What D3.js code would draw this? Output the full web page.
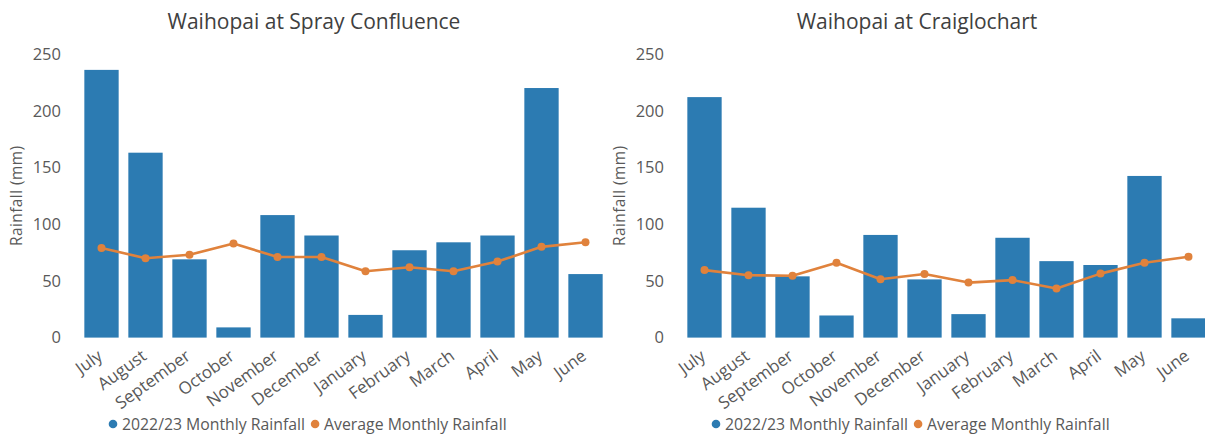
<!DOCTYPE html>
<html>
<head>
<meta charset="utf-8">
<script src="https://cdn.jsdelivr.net/npm/d3@7/dist/d3.min.js"></script>
<style>
  html, body { margin: 0; padding: 0; background: #ffffff; }
  svg { display: block; font-family: "Open Sans", "Noto Sans", sans-serif; }
</style>
</head>
<body>
<svg id="chart" width="1205" height="436"></svg>
<script>
// Months of the hydrological year (July to June)
const months = ["July", "August", "September", "October", "November", "December",
                "January", "February", "March", "April", "May", "June"];

// Waihopai at Spray Confluence (mm)
const sprayRain2223 = [236, 163, 69, 9, 108, 90, 20, 77, 84, 90, 220, 56];
const sprayRainAvg  = [79, 70, 73, 83, 71, 71, 58.5, 62, 58.5, 67, 80, 84];

// Waihopai at Craiglochart (mm)
const craigRain2223 = [212, 114.5, 54, 19.5, 90.5, 51.3, 20.7, 88, 67.4, 64, 142.5, 17];
const craigRainAvg  = [59.5, 55, 54.5, 66, 51.5, 56, 48.5, 50.7, 43.3, 56.4, 66, 71.2];

const yTicks = [0, 50, 100, 150, 200, 250];
const seriesNames = ["2022/23 Monthly Rainfall", "Average Monthly Rainfall"];
const titles = ["Waihopai at Spray Confluence", "Waihopai at Craiglochart"];
const yAxisTitle = "Rainfall (mm)";

const BLUE = "#2c7bb2";
const ORANGE = "#e0823c";
const TEXT = "#595959";
const TITLE = "#404040";

const svg = d3.select("#chart");

function drawPanel(offsetX, title, bars, avg) {
  const g = svg.append("g").attr("transform", `translate(${offsetX},0)`);

  const x = d3.scaleBand().domain(months).range([79.5, 607.5]).paddingInner(0.22).paddingOuter(0.11);
  const y = d3.scaleLinear().domain([0, 250]).range([337.6, 54]);

  // title
  g.append("text")
    .attr("x", 314).attr("y", 29)
    .attr("text-anchor", "middle")
    .attr("fill", TITLE)
    .style("font-size", "21px")
    .text(title);

  // y axis: labels only, no gridlines
  const yAxis = d3.axisLeft(y).tickValues(yTicks).tickSize(0).tickPadding(0);
  const ya = g.append("g").attr("transform", "translate(61,0)").call(yAxis);
  ya.select(".domain").remove();
  ya.selectAll("text").attr("fill", TEXT).style("font-size", "16.5px")
    .style("font-family", "'Open Sans', sans-serif");

  // y axis title
  g.append("text")
    .attr("transform", `translate(22,${(54 + 337.6) / 2}) rotate(-90)`)
    .attr("text-anchor", "middle")
    .attr("fill", TEXT)
    .style("font-size", "15.5px")
    .style("letter-spacing", "0.4px")
    .text(yAxisTitle);

  // bars
  g.selectAll("rect.bar").data(bars).join("rect")
    .attr("class", "bar")
    .attr("x", (d, i) => x(months[i]))
    .attr("width", x.bandwidth())
    .attr("y", d => y(d))
    .attr("height", d => y(0) - y(d))
    .attr("fill", BLUE);

  // average line with markers
  const cx = i => x(months[i]) + x.bandwidth() / 2;
  const line = d3.line().x((d, i) => cx(i)).y(d => y(d));
  g.append("path").datum(avg)
    .attr("d", line)
    .attr("fill", "none")
    .attr("stroke", ORANGE)
    .attr("stroke-width", 2.6)
    .attr("stroke-linejoin", "round");
  g.selectAll("circle.pt").data(avg).join("circle")
    .attr("class", "pt")
    .attr("cx", (d, i) => cx(i))
    .attr("cy", d => y(d))
    .attr("r", 4)
    .attr("fill", ORANGE);

  // x axis labels, rotated
  const xAxis = d3.axisBottom(x).tickSize(0).tickPadding(0);
  const xa = g.append("g").attr("transform", "translate(0,337.6)").call(xAxis);
  xa.select(".domain").remove();
  xa.selectAll("text")
    .attr("fill", TEXT)
    .style("font-size", "17px")
    .style("font-family", "'Open Sans', sans-serif")
    .attr("text-anchor", "end")
    .attr("x", 0).attr("y", 0).attr("dy", "0.71em")
    .attr("transform", "translate(-5,11) rotate(-36)");

  // legend
  const legend = g.append("g").attr("transform", "translate(0,424)");
  const items = [
    { name: seriesNames[0], color: BLUE },
    { name: seriesNames[1], color: ORANGE }
  ];
  let lx = 113;
  items.forEach(it => {
    legend.append("circle").attr("cx", lx).attr("cy", 0).attr("r", 4.3).attr("fill", it.color);
    const t = legend.append("text")
      .attr("x", lx + 9).attr("y", 0).attr("dy", "0.35em")
      .attr("fill", TEXT)
      .style("font-size", "15.8px")
      .text(it.name);
    lx += 9 + t.node().getComputedTextLength() + 10;
  });
}

drawPanel(0, titles[0], sprayRain2223, sprayRainAvg);
drawPanel(603, titles[1], craigRain2223, craigRainAvg);
</script>
</body>
</html>
